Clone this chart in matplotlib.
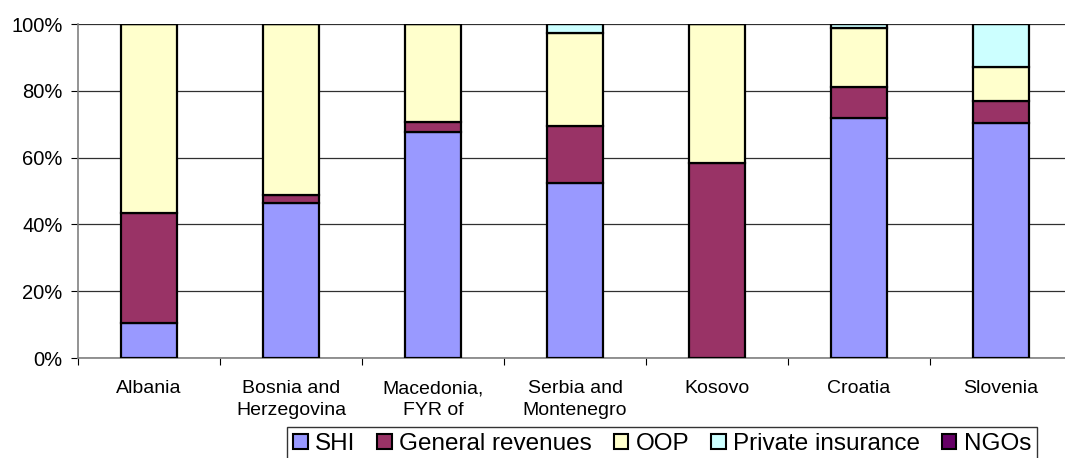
import matplotlib
matplotlib.use('Agg')
import matplotlib.pyplot as plt
import numpy as np

plt.rcParams['font.family'] = ['Liberation Sans', 'DejaVu Sans']

countries = ["Albania", "Bosnia and\nHerzegovina", "Macedonia,\nFYR of", "Serbia and\nMontenegro",
             "Kosovo", "Croatia", "Slovenia"]
shi = [10.4, 46.5, 67.8, 52.5, 0.0, 71.8, 70.4]
gen_rev = [33.0, 2.3, 2.9, 17.1, 58.5, 9.4, 6.6]
oop = [56.6, 51.2, 29.3, 27.6, 41.5, 17.7, 10.0]
private = [0.0, 0.0, 0.0, 2.8, 0.0, 1.1, 13.0]
ngos = [0.0, 0.0, 0.0, 0.0, 0.0, 0.0, 0.0]

series = [("SHI", shi, '#9999FF'),
          ("General revenues", gen_rev, '#993366'),
          ("OOP", oop, '#FFFFCC'),
          ("Private insurance", private, '#CCFFFF'),
          ("NGOs", ngos, '#660066')]

fig = plt.figure(figsize=(10.65, 4.58), dpi=100)
ax = fig.add_axes([78/1065, 1 - 358/458, 994/1065, 334/458])

x = np.arange(len(countries))
bottom = np.zeros(len(countries))
for name, vals, col in series:
    vals = np.array(vals)
    ax.bar(x, vals, width=0.395, bottom=bottom, color=col, edgecolor='black',
           linewidth=1.6, label=name, zorder=3)
    bottom += vals

ax.set_xlim(-0.5, len(countries) - 0.5)
ax.set_ylim(0, 100)
ax.set_yticks(np.arange(0, 101, 20))
ax.set_yticklabels([f"{v}%" for v in range(0, 101, 20)], fontsize=14.5)
ax.yaxis.grid(True, color='#303030', linewidth=0.9, zorder=0)

ax.set_xticks(x)
ax.set_xticklabels(countries, fontsize=14, linespacing=1.4)
ax.tick_params(axis='x', length=0, pad=16)
ax.set_xticks(np.arange(-0.5, len(countries), 1), minor=True)
ax.tick_params(axis='x', which='minor', length=5, color='black', width=0.8, direction='out')
ax.tick_params(axis='y', length=5, color='black', width=0.8, direction='out', pad=6)

for s in ['top', 'right']:
    ax.spines[s].set_visible(False)
ax.spines['left'].set_color('#808080')
ax.spines['left'].set_linewidth(1.2)
ax.spines['bottom'].set_color('#808080')
ax.spines['bottom'].set_linewidth(1.2)

leg = fig.legend(loc='upper left', bbox_to_anchor=(287/1065, 1 - 427/458), ncol=5,
                 fontsize=17.5, frameon=True, fancybox=False, edgecolor='black',
                 handlelength=0.6, handleheight=0.6, handletextpad=0.3,
                 columnspacing=0.9, borderpad=0.25, borderaxespad=0)
leg.get_frame().set_linewidth(1.0)
for h in leg.legend_handles:
    h.set_linewidth(1.5)

fig.savefig('out.png', dpi=100)
